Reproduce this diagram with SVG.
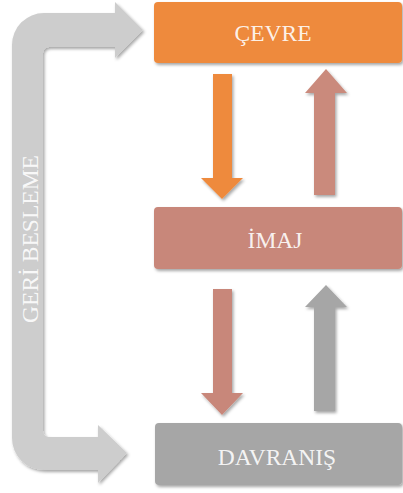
<svg xmlns="http://www.w3.org/2000/svg" width="403" height="493" viewBox="0 0 403 493">
  <defs>
    <filter id="sh" x="-20%" y="-20%" width="140%" height="140%">
      <feDropShadow dx="1.5" dy="2" stdDeviation="1.8" flood-color="#000" flood-opacity="0.35"/>
    </filter>
  </defs>
  <style>
    .lbl { font-family: "Liberation Serif", "Times New Roman", serif; font-size: 23.5px; fill: #ffffff; fill-opacity: 0.9; text-anchor: middle; }
    .box { filter: url(#sh); }
    .arr { filter: url(#sh); }
  </style>
  <rect width="403" height="493" fill="#ffffff"/>

  <g id="connectors">
    <path id="feedback" class="arr" fill="#cdcdcd" d="M 143 30 L 115 2 L 115 13 L 44 13 A 32 32 0 0 0 12 45 L 12 438 A 32 32 0 0 0 44 470 L 98 470 L 98 483 L 127 453 L 98 425 L 98 437 L 49 437 A 6 6 0 0 1 43 431 L 43 53 A 6 6 0 0 1 49 47 L 115 47 L 115 58 Z"/>
    <text class="lbl" fill-opacity="0.75" transform="translate(38,239) rotate(-90)">GERİ BESLEME</text>
    <polygon class="arr" fill="#ee8a3c" points="213,74 232,74 232,178 243,178 222,199 201,178 213,178"/>
    <polygon class="arr" fill="#ca8a7c" points="326,69 347,93 335,93 335,195 314,195 314,93 305,93"/>
    <polygon class="arr" fill="#c8877a" points="213,289 232,289 232,393 243,393 222,415 201,393 213,393"/>
    <polygon class="arr" fill="#a6a6a6" points="326,285 347,307 335,307 335,411 314,411 314,307 305,307"/>
  </g>

  <g id="cevre">
    <rect class="box" x="154" y="2" width="248" height="61" rx="4" fill="#ee8a3c"/>
    <text class="lbl" x="273" y="41">ÇEVRE</text>
  </g>
  <g id="imaj">
    <rect class="box" x="154" y="207" width="248" height="62" rx="4" fill="#c8877a"/>
    <text class="lbl" x="275" y="248">İMAJ</text>
  </g>
  <g id="davranis">
    <rect class="box" x="155" y="423" width="247" height="62" rx="4" fill="#a6a6a6"/>
    <text class="lbl" x="277" y="465">DAVRANIŞ</text>
  </g>
</svg>
